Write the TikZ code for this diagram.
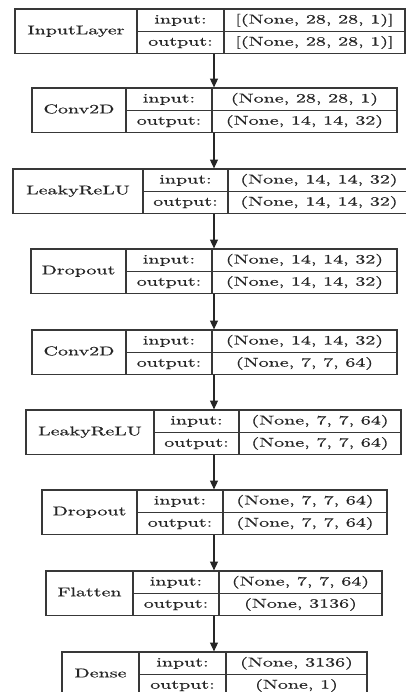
\documentclass[tikz,border=0pt]{standalone}
\usepackage{graphicx}
\usepackage{fontspec}
\newfontfamily\heavy{Latin Modern Roman}[FakeBold=0.5]
\usetikzlibrary{arrows.meta,fit}
\tikzset{
  x=0.485pt, y=-0.485pt,
  frame/.style={draw=black!78, line width=0.6pt, inner sep=0pt},
  rule/.style={draw=black!78, line width=0.6pt},
  txt/.style={inner sep=0pt, text height=4.3pt, text depth=1.3pt, text=black!85, font=\fontsize{10}{12}\heavy},
  flow/.style={draw=black!85, line width=0.6pt, -{Triangle[length=4.2pt,width=3.8pt]}}
}
\newcommand{\squash}[1]{\scalebox{0.97}[0.62]{#1}}
% #1 name, #2 label, #3 left, #4 right, #5 divider 1, #6 divider 2, #7 top, #8 input shape, #9 output shape
\newcommand{\kerasbox}[9]{%
  \coordinate (#1tl) at (#3,#7);
  \coordinate (#1br) at (#4,#7+44.5);
  \node[frame, fit=(#1tl)(#1br)] (#1) {};
  \draw[rule] (#5,#7) -- (#5,#7+44.5);
  \draw[rule] (#6,#7) -- (#6,#7+44.5);
  \draw[rule] (#5,#7+22.25) -- (#4,#7+22.25);
  \node[txt] (#1-name) at ({(#3+#5)/2},#7+22.25) {\squash{#2}};
  \node[txt] (#1-inl) at ({(#5+#6)/2},#7+11.4) {\squash{input:}};
  \node[txt] (#1-outl) at ({(#5+#6)/2},#7+33.6) {\squash{output:}};
  \node[txt] (#1-ins) at ({(#6+#4)/2},#7+11.4) {\squash{#8}};
  \node[txt] (#1-outs) at ({(#6+#4)/2},#7+33.6) {\squash{#9}};
}
\begin{document}
\begin{tikzpicture}
\useasboundingbox (0,0) rectangle (406,692);
\coordinate (ax) at (214,0);
\kerasbox{b1}{InputLayer}{15}{405}{137}{224}{9}{[(None, 28, 28, 1)]}{[(None, 28, 28, 1)]}
\kerasbox{b2}{Conv2D}{32}{397}{126}{212}{88}{(None, 28, 28, 1)}{(None, 14, 14, 32)}
\kerasbox{b3}{LeakyReLU}{13}{410}{143}{228}{169}{(None, 14, 14, 32)}{(None, 14, 14, 32)}
\kerasbox{b4}{Dropout}{31}{397}{126}{212}{249}{(None, 14, 14, 32)}{(None, 14, 14, 32)}
\kerasbox{b5}{Conv2D}{32}{397}{126}{212}{330}{(None, 14, 14, 32)}{(None, 7, 7, 64)}
\kerasbox{b6}{LeakyReLU}{26}{401}{154}{239}{410}{(None, 7, 7, 64)}{(None, 7, 7, 64)}
\kerasbox{b7}{Dropout}{42}{387}{137}{223}{490}{(None, 7, 7, 64)}{(None, 7, 7, 64)}
\kerasbox{b8}{Flatten}{46}{382}{133}{219}{571}{(None, 7, 7, 64)}{(None, 3136)}
\kerasbox{b9}{Dense}{62}{367}{139}{226}{652}{(None, 3136)}{(None, 1)}
\foreach \a/\b in {b1/b2,b2/b3,b3/b4,b4/b5,b5/b6,b6/b7,b7/b8,b8/b9}
  \draw[flow] (\a.south -| ax) -- (\b.north -| ax);
\end{tikzpicture}
\end{document}
